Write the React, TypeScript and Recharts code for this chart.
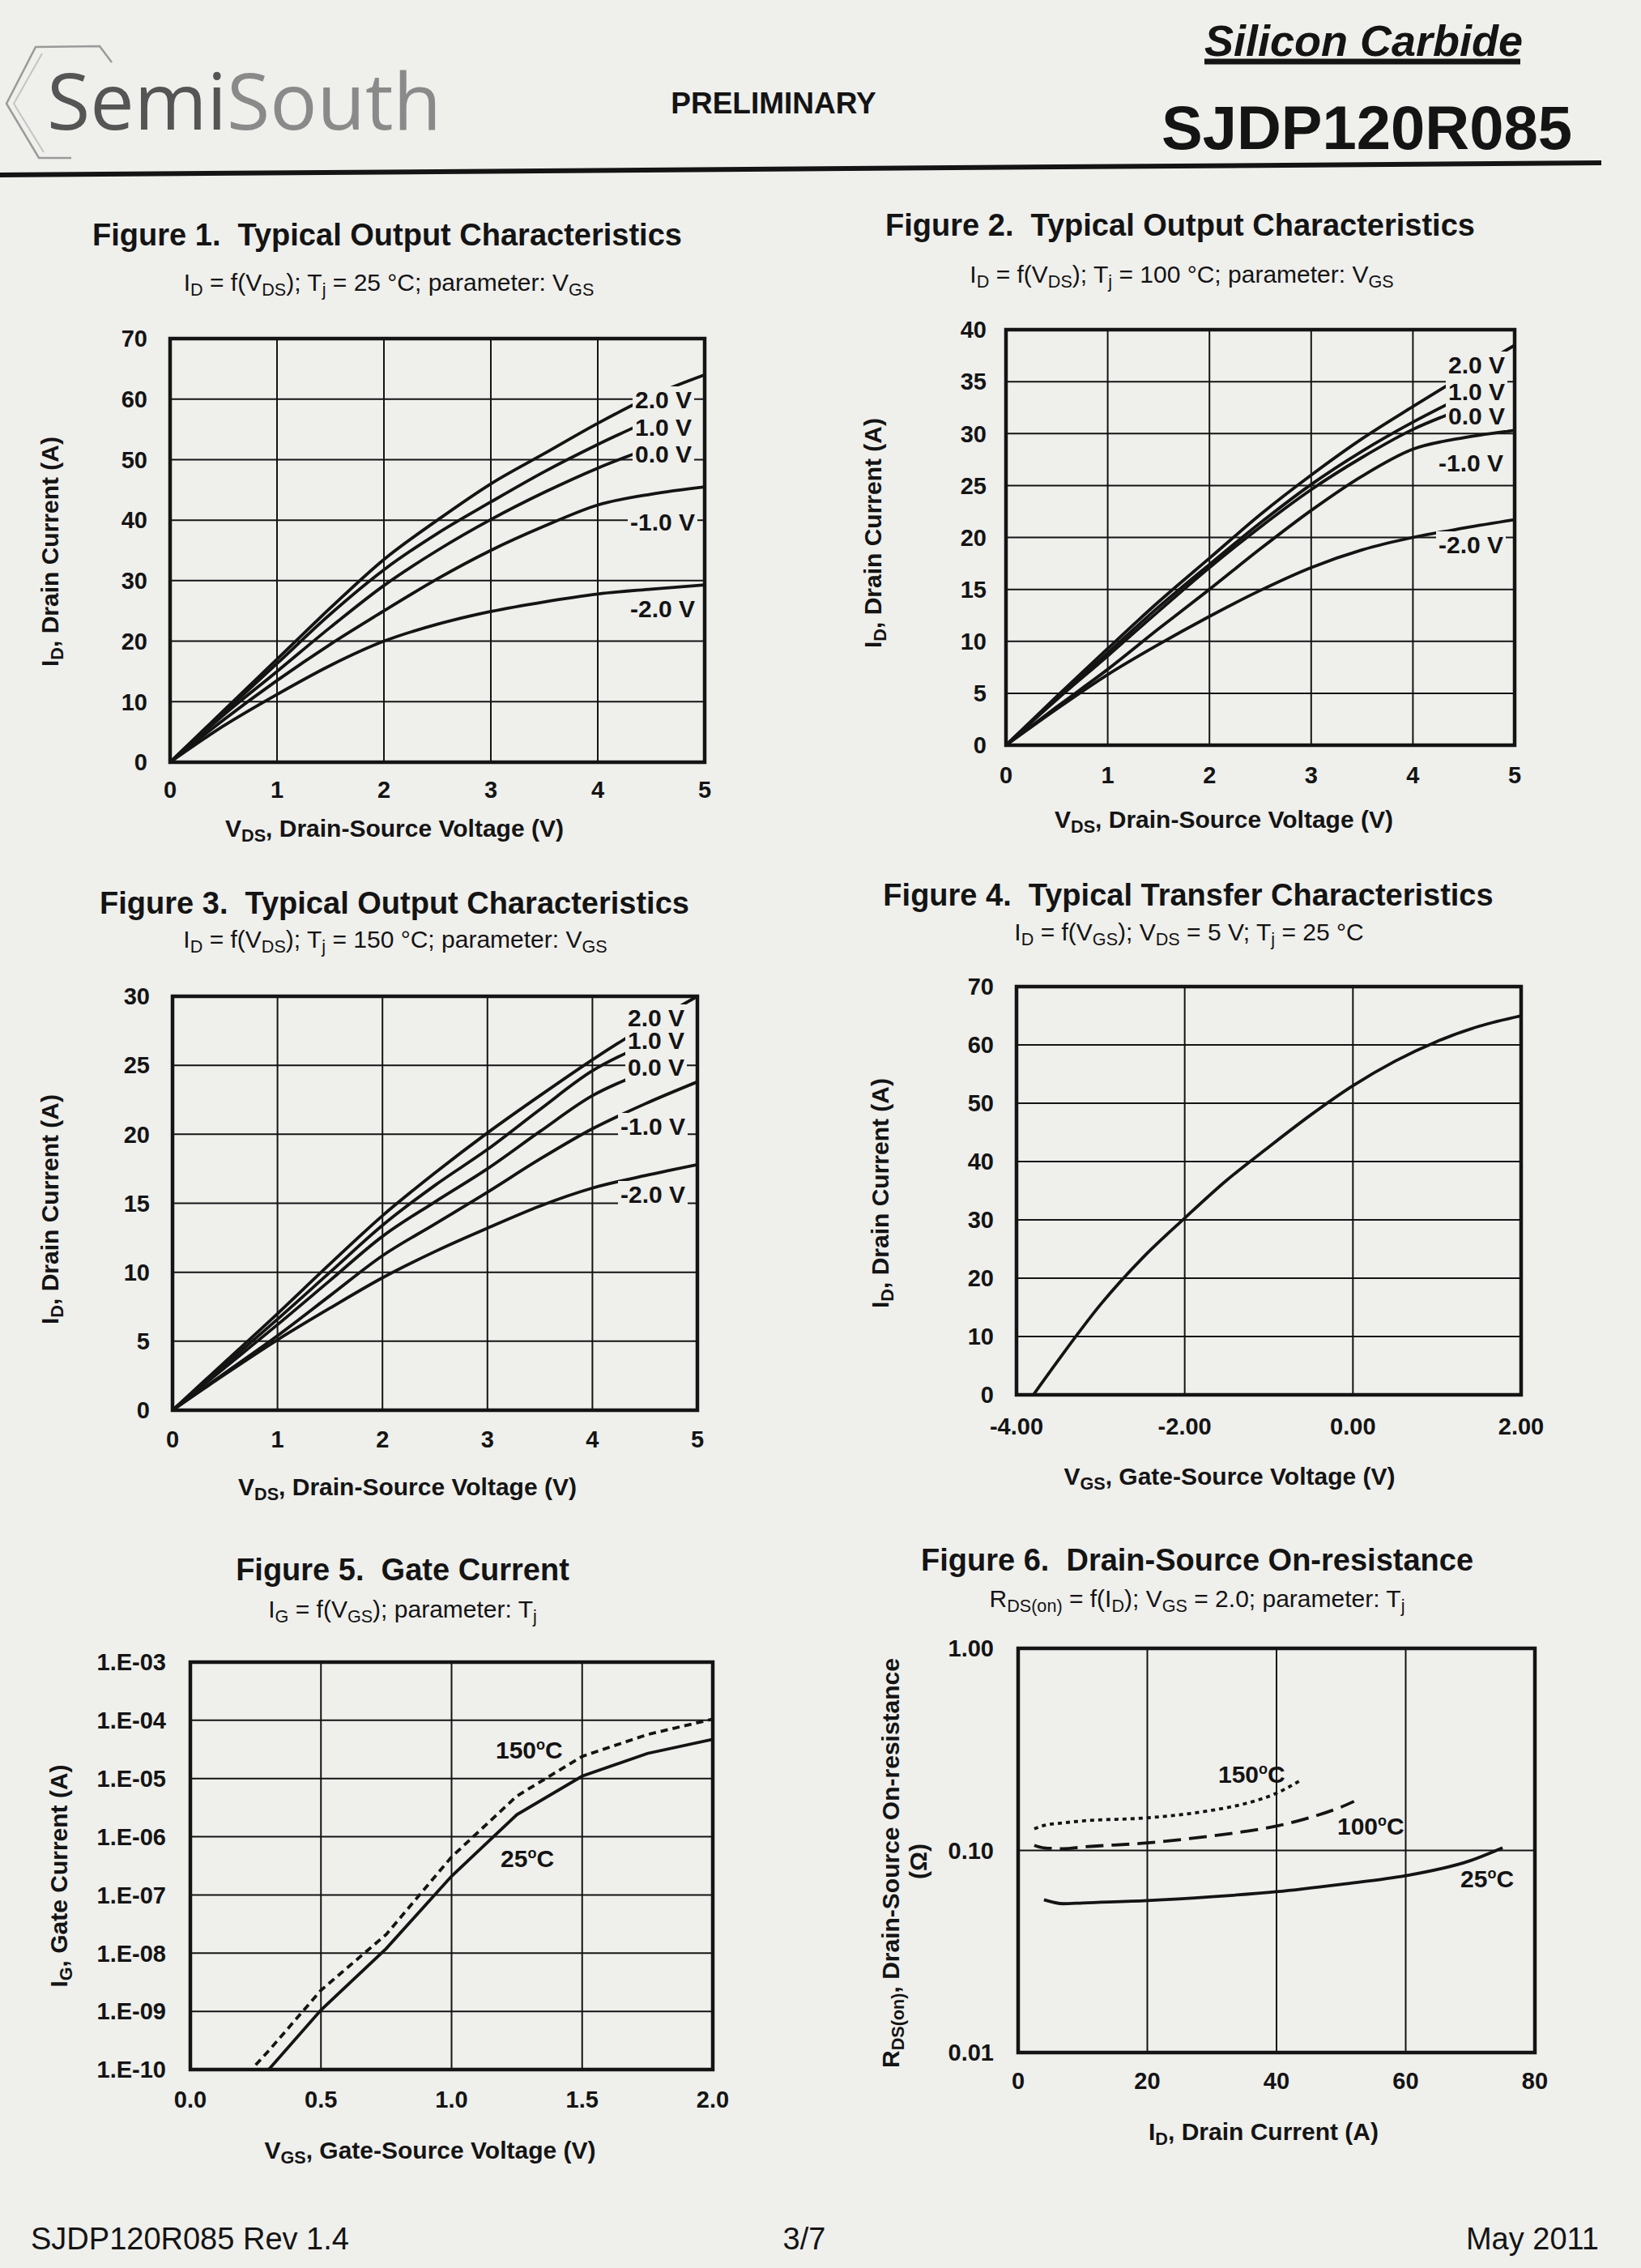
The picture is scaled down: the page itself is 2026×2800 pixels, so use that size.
import React from "react";
import { LineChart, Line, XAxis, YAxis, CartesianGrid, ReferenceArea } from "recharts";

const FONT = '"Liberation Sans", Arial, Helvetica, sans-serif';
const INK = "#141414";
const PAPER = "#efefec";

// Figures 1-3: output characteristics, I_D vs V_DS, one curve per V_GS
const vdsSteps = [0, 0.5, 1, 1.5, 2, 2.5, 3, 3.5, 4, 4.5, 5];
const vdsTicks = [0, 1, 2, 3, 4, 5];

const fig1Ticks = [0, 10, 20, 30, 40, 50, 60, 70];
const fig1Vgs2 = [0, 8.5, 17, 25.5, 33.5, 40, 46, 51, 56, 60.5, 64];
const fig1Vgs1 = [0, 8.2, 16.3, 24.5, 31.8, 37.8, 43, 48, 52.5, 56.6, null];
const fig1Vgs0 = [0, 7.8, 15, 22.3, 29.2, 35, 40.1, 44.6, 48.6, 52, null];
const fig1VgsM1 = [0, 7, 13.5, 19.5, 25, 30.3, 35, 39, 42.5, 44.3, 45.5];
const fig1VgsM2 = [0, 6, 11.2, 16, 20, 22.8, 24.9, 26.5, 27.8, 28.6, 29.3];

const fig2Ticks = [0, 5, 10, 15, 20, 25, 30, 35, 40];
const fig2Vgs2 = [0, 4.7, 9.3, 13.8, 18, 22.2, 26, 29.5, 32.6, 35.6, 38.5];
const fig2Vgs1 = [0, 4.5, 8.9, 13.3, 17.4, 21.4, 25.1, 28.3, 31.1, 33.6, null];
const fig2Vgs0 = [0, 4.4, 8.6, 12.9, 17.1, 21, 24.6, 27.7, 30.4, 32.4, null];
const fig2VgsM1 = [0, 3.7, 7.3, 11.2, 15, 18.9, 22.6, 25.9, 28.5, 29.6, 30.3];
const fig2VgsM2 = [0, 3.5, 6.8, 9.7, 12.4, 14.9, 17.1, 18.8, 20, 20.9, 21.7];

const fig3Ticks = [0, 5, 10, 15, 20, 25, 30];
const fig3Vgs2 = [0, 3.5, 7, 10.6, 14.1, 17.2, 20.1, 22.8, 25.4, 27.8, 30];
const fig3Vgs1 = [0, 3.3, 6.6, 10, 13.4, 16.3, 18.9, 21.8, 24.6, 26.5, null];
const fig3Vgs0 = [0, 3.1, 6.2, 9.4, 12.6, 15.1, 17.5, 20.2, 22.8, 24.5, null];
const fig3VgsM1 = [0, 2.7, 5.4, 8.3, 11.2, 13.5, 15.8, 18.2, 20.4, 22.2, 23.8];
const fig3VgsM2 = [0, 2.6, 5.1, 7.4, 9.6, 11.5, 13.2, 14.8, 16.1, 17, 17.8];

const vgsLabels = ["2.0 V", "1.0 V", "0.0 V", "-1.0 V", "-2.0 V"];

// Figure 4: transfer characteristic
const fig4Vgs = [-3.8, -3.5, -3, -2.5, -2, -1.5, -1, -0.5, 0, 0.5, 1, 1.5, 2];
const fig4Id = [0, 6, 15.5, 23.5, 30.3, 36.8, 42.5, 48, 53, 57.2, 60.6, 63.2, 65];
const fig4XTicks = [-4, -2, 0, 2];
const fig4XLabels = ["-4.00", "-2.00", "0.00", "2.00"];
const fig4YTicks = [0, 10, 20, 30, 40, 50, 60, 70];

// Figure 5: gate current (log)
const fig5Vgs = [0.25, 0.3, 0.5, 0.75, 1, 1.25, 1.5, 1.75, 2];
const fig5Ig150 = [1.2e-10, 2.1e-10, 2.3e-9, 2.1e-8, 4.5e-7, 5e-6, 2.4e-5, 5.7e-5, 1.05e-4];
const fig5Ig25 = [null, 1e-10, 1.05e-9, 1.2e-8, 2.1e-7, 2.4e-6, 1.1e-5, 2.7e-5, 4.7e-5];
const fig5XTicks = [0, 0.5, 1, 1.5, 2];
const fig5XLabels = ["0.0", "0.5", "1.0", "1.5", "2.0"];
const fig5YTicks = [1e-10, 1e-9, 1e-8, 1e-7, 1e-6, 1e-5, 1e-4, 1e-3];
const fig5YLabels = ["1.E-10", "1.E-09", "1.E-08", "1.E-07", "1.E-06", "1.E-05", "1.E-04", "1.E-03"];

// Figure 6: on-resistance (log)
const fig6Id = [2.5, 4, 7, 10, 20, 30, 35, 40, 43.5, 45, 50, 52, 60, 70, 75];
const fig6R150 = [0.128, 0.133, 0.137, 0.14, 0.145, 0.158, 0.17, 0.192, 0.22, null, null, null, null, null, null];
const fig6R100 = [0.106, 0.103, 0.102, 0.104, 0.109, 0.118, 0.124, 0.132, null, 0.145, 0.164, 0.175, null, null, null];
const fig6R25 = [null, 0.057, 0.0545, 0.055, 0.0565, 0.059, null, 0.0625, null, null, 0.068, null, 0.075, 0.089, 0.103];
const fig6XTicks = [0, 20, 40, 60, 80];
const fig6YTicks = [0.01, 0.1, 1];
const fig6YLabels = ["0.01", "0.10", "1.00"];

function table(xs: number[], cols: Record<string, (number | null)[]>) {
  return xs.map((x, i) => {
    const row: any = { x };
    for (const k in cols) row[k] = cols[k][i];
    return row;
  });
}

const tickStyle = { fontSize: 29, fontWeight: 700, fill: INK, fontFamily: FONT };

type Curve = { key: string; dash?: string; type?: any };

function Panel(props: {
  l: number; t: number; w: number; h: number;
  data: any[]; curves: Curve[];
  xDomain: number[]; xTicks: number[]; xLabels?: string[];
  yDomain: number[]; yTicks: number[]; yLabels?: string[];
  log?: boolean; yGap: number; xGap: number;
}) {
  const YW = 160, MT = 30, MR = 30, XH = 70;
  const p = props;
  return (
    <div style={{ position: "absolute", left: p.l - YW, top: p.t - MT }}>
      <LineChart width={YW + p.w + MR} height={MT + p.h + XH} data={p.data}
        margin={{ top: MT, right: MR, bottom: 0, left: 0 }}>
        <CartesianGrid stroke={INK} strokeWidth={2} />
        <XAxis dataKey="x" type="number" domain={p.xDomain} ticks={p.xTicks} allowDataOverflow
          height={XH} axisLine={false} tickLine={false} tickSize={0} tickMargin={p.xGap}
          interval={0} tick={tickStyle}
          tickFormatter={(v, i) => (p.xLabels ? p.xLabels[i] : String(v))} />
        <YAxis type="number" domain={p.yDomain} ticks={p.yTicks} scale={p.log ? "log" : "linear"}
          allowDataOverflow width={YW} axisLine={false} tickLine={false} tickSize={0}
          tickMargin={p.yGap} interval={0} tick={tickStyle}
          tickFormatter={(v, i) => (p.yLabels ? p.yLabels[i] : String(v))} />
        <ReferenceArea x1={p.xDomain[0]} x2={p.xDomain[1]} y1={p.yDomain[0]} y2={p.yDomain[1]}
          fill="none" fillOpacity={0} stroke={INK} strokeWidth={4.5} ifOverflow="visible" />
        {p.curves.map((c) => (
          <Line key={c.key} dataKey={c.key} type={c.type || "monotone"} stroke={INK} strokeWidth={3.8}
            strokeDasharray={c.dash} dot={false} activeDot={false} connectNulls isAnimationActive={false} />
        ))}
      </LineChart>
    </div>
  );
}

const S = ({ children }: { children: React.ReactNode }) => (
  <span style={{ fontSize: "0.72em", position: "relative", top: "0.28em" }}>{children}</span>
);
const Deg = () => (
  <span style={{ fontSize: "0.6em", position: "relative", top: "-0.6em" }}>o</span>
);

function T(props: { x: number; y: number; size: number; bold?: boolean; italic?: boolean;
  align?: "left" | "center" | "right"; rotate?: boolean; bg?: boolean; color?: string; family?: string;
  children: React.ReactNode }) {
  const a = props.align || "center";
  const tx = a === "left" ? "0" : a === "right" ? "-100%" : "-50%";
  return (
    <div style={{
      position: "absolute", left: props.x, top: props.y, whiteSpace: "pre", lineHeight: 1,
      fontFamily: props.family || FONT, fontSize: props.size, fontWeight: props.bold ? 700 : 400,
      fontStyle: props.italic ? "italic" : "normal", color: props.color || INK,
      transform: `translate(${tx}, -50%)${props.rotate ? " rotate(-90deg)" : ""}`,
      background: props.bg ? PAPER : "transparent", padding: props.bg ? "2px 3px" : 0,
    }}>{props.children}</div>
  );
}

const outCurves: Curve[] = [{ key: "a" }, { key: "b" }, { key: "c" }, { key: "d" }, { key: "e" }];

export default function App() {
  const d1 = table(vdsSteps, { a: fig1Vgs2, b: fig1Vgs1, c: fig1Vgs0, d: fig1VgsM1, e: fig1VgsM2 });
  const d2 = table(vdsSteps, { a: fig2Vgs2, b: fig2Vgs1, c: fig2Vgs0, d: fig2VgsM1, e: fig2VgsM2 });
  const d3 = table(vdsSteps, { a: fig3Vgs2, b: fig3Vgs1, c: fig3Vgs0, d: fig3VgsM1, e: fig3VgsM2 });
  const d4 = table(fig4Vgs, { a: fig4Id });
  const d5 = table(fig5Vgs, { hot: fig5Ig150, cold: fig5Ig25 });
  const d6 = table(fig6Id, { t150: fig6R150, t100: fig6R100, t25: fig6R25 });

  const idTitle = <>I<S>D</S>, Drain Current (A)</>;
  const vdsTitle = <>V<S>DS</S>, Drain-Source Voltage (V)</>;
  const vgsTitle = <>V<S>GS</S>, Gate-Source Voltage (V)</>;

  const fig1LabelY = [494, 528, 561, 645, 752];
  const fig2LabelY = [451, 484, 514, 572, 673];
  const fig3LabelY = [1257, 1285, 1318, 1391, 1475];

  return (
    <div style={{ position: "absolute", left: 0, top: 0, width: 2026, height: 2800, background: PAPER, overflow: "hidden", fontFamily: FONT }}>
      {/* header */}
      <svg width={2026} height={240} style={{ position: "absolute", left: 0, top: 0 }}>
        <polyline points="138,77 123,57 44,58 8,128 48,195 88,195" fill="none" stroke="#9a9a9a" strokeWidth={2.5} />
        <polyline points="52,66 17,128 54,188" fill="none" stroke="#c4c4c4" strokeWidth={2} />
        <line x1={1487} y1={76} x2={1877} y2={76} stroke={INK} strokeWidth={7} />
        <line x1={0} y1={216} x2={1977} y2={201} stroke={INK} strokeWidth={6} />
      </svg>
      <T x={58} y={122} size={97} align="left" family='"Open Sans", "Noto Sans", sans-serif'>
        <span style={{ color: "#555" }}>Semi</span><span style={{ color: "#8a8a8a" }}>South</span>
      </T>
      <T x={955} y={127} size={37} bold>PRELIMINARY</T>
      <T x={1487} y={50} size={54} bold italic align="left">Silicon Carbide</T>
      <T x={1434} y={158} size={76} bold align="left">SJDP120R085</T>

      {/* Figure 1 */}
      <T x={478} y={290} size={38} bold>{"Figure 1.  Typical Output Characteristics"}</T>
      <T x={480} y={349} size={30}>I<S>D</S> = f(V<S>DS</S>); T<S>j</S> = 25 °C; parameter: V<S>GS</S></T>
      <Panel l={210} t={418} w={660} h={523} data={d1} curves={outCurves}
        xDomain={[0, 5]} xTicks={vdsTicks} yDomain={[0, 70]} yTicks={fig1Ticks} yGap={28} xGap={23} />
      {vgsLabels.map((s, i) => <T key={s} x={i < 3 ? 781 : 775} y={fig1LabelY[i]} size={30} bold align="left" bg>{s}</T>)}
      <T x={62} y={681} size={30} bold rotate>{idTitle}</T>
      <T x={487} y={1023} size={30} bold>{vdsTitle}</T>

      {/* Figure 2 */}
      <T x={1457} y={278} size={38} bold>{"Figure 2.  Typical Output Characteristics"}</T>
      <T x={1459} y={339} size={30}>I<S>D</S> = f(V<S>DS</S>); T<S>j</S> = 100 °C; parameter: V<S>GS</S></T>
      <Panel l={1242} t={407} w={628} h={513} data={d2} curves={outCurves}
        xDomain={[0, 5]} xTicks={vdsTicks} yDomain={[0, 40]} yTicks={fig2Ticks} yGap={24} xGap={26} />
      {vgsLabels.map((s, i) => <T key={s} x={i < 3 ? 1785 : 1773} y={fig2LabelY[i]} size={30} bold align="left" bg>{s}</T>)}
      <T x={1078} y={658} size={30} bold rotate>{idTitle}</T>
      <T x={1511} y={1012} size={30} bold>{vdsTitle}</T>

      {/* Figure 3 */}
      <T x={487} y={1115} size={38} bold>{"Figure 3.  Typical Output Characteristics"}</T>
      <T x={488} y={1160} size={30}>I<S>D</S> = f(V<S>DS</S>); T<S>j</S> = 150 °C; parameter: V<S>GS</S></T>
      <Panel l={213} t={1230} w={648} h={511} data={d3} curves={outCurves}
        xDomain={[0, 5]} xTicks={vdsTicks} yDomain={[0, 30]} yTicks={fig3Ticks} yGap={28} xGap={25} />
      {vgsLabels.map((s, i) => <T key={s} x={i < 3 ? 772 : 763} y={fig3LabelY[i]} size={30} bold align="left" bg>{s}</T>)}
      <T x={62} y={1493} size={30} bold rotate>{idTitle}</T>
      <T x={503} y={1836} size={30} bold>{vdsTitle}</T>

      {/* Figure 4 */}
      <T x={1467} y={1105} size={38} bold>{"Figure 4.  Typical Transfer Characteristics"}</T>
      <T x={1468} y={1151} size={30}>I<S>D</S> = f(V<S>GS</S>); V<S>DS</S> = 5 V; T<S>j</S> = 25 °C</T>
      <Panel l={1255} t={1218} w={623} h={504} data={d4} curves={[{ key: "a" }]}
        xDomain={[-4, 2]} xTicks={fig4XTicks} xLabels={fig4XLabels} yDomain={[0, 70]} yTicks={fig4YTicks}
        yGap={28} xGap={28} />
      <T x={1087} y={1473} size={30} bold rotate>{idTitle}</T>
      <T x={1518} y={1823} size={30} bold>{vgsTitle}</T>

      {/* Figure 5 */}
      <T x={497} y={1938} size={38} bold>{"Figure 5.  Gate Current"}</T>
      <T x={497} y={1987} size={30}>I<S>G</S> = f(V<S>GS</S>); parameter: T<S>j</S></T>
      <Panel l={235} t={2052} w={645} h={503} data={d5}
        curves={[{ key: "hot", dash: "9 6", type: "linear" }, { key: "cold", type: "linear" }]}
        xDomain={[0, 2]} xTicks={fig5XTicks} xLabels={fig5XLabels} yDomain={[1e-10, 1e-3]} yTicks={fig5YTicks}
        yLabels={fig5YLabels} log yGap={30} xGap={26} />
      <T x={612} y={2161} size={30} bold align="left">150<Deg />C</T>
      <T x={618} y={2295} size={30} bold align="left">25<Deg />C</T>
      <T x={73} y={2316} size={30} bold rotate>I<S>G</S>, Gate Current (A)</T>
      <T x={531} y={2655} size={30} bold>{vgsTitle}</T>

      {/* Figure 6 */}
      <T x={1478} y={1926} size={38} bold>{"Figure 6.  Drain-Source On-resistance"}</T>
      <T x={1478} y={1974} size={30}>R<S>DS(on)</S> = f(I<S>D</S>); V<S>GS</S> = 2.0; parameter: T<S>j</S></T>
      <Panel l={1257} t={2035} w={638} h={499} data={d6}
        curves={[{ key: "t150", dash: "5 5" }, { key: "t100", dash: "22 10" }, { key: "t25" }]}
        xDomain={[0, 80]} xTicks={fig6XTicks} yDomain={[0.01, 1]} yTicks={fig6YTicks} yLabels={fig6YLabels}
        log yGap={30} xGap={24} />
      <T x={1504} y={2191} size={30} bold align="left">150<Deg />C</T>
      <T x={1651} y={2255} size={30} bold align="left">100<Deg />C</T>
      <T x={1803} y={2320} size={30} bold align="left">25<Deg />C</T>
      <T x={1100} y={2300} size={30} bold rotate>R<S>DS(on)</S>, Drain-Source On-resistance</T>
      <T x={1134} y={2298} size={30} bold rotate>(Ω)</T>
      <T x={1560} y={2632} size={30} bold>I<S>D</S>, Drain Current (A)</T>

      {/* footer */}
      <T x={38} y={2764} size={38} align="left">SJDP120R085 Rev 1.4</T>
      <T x={993} y={2764} size={38}>3/7</T>
      <T x={1974} y={2764} size={38} align="right">May 2011</T>
    </div>
  );
}
